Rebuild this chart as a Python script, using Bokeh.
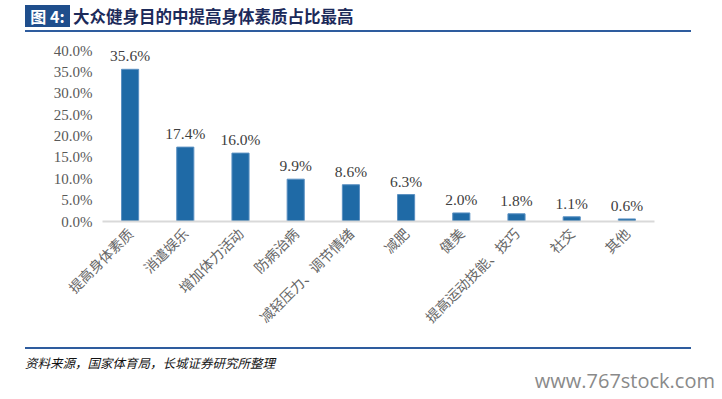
from bokeh.plotting import figure
from bokeh.models import (ColumnDataSource, LabelSet, Div,
                          PrintfTickFormatter, FixedTicker, Range1d)
from bokeh.layouts import column
from bokeh.embed import file_html
from bokeh.resources import INLINE
import math

# ---- data ----
categories = ["提高身体素质", "消遣娱乐", "增加体力活动", "防病治病", "减轻压力、调节情绪",
              "减肥", "健美", "提高运动技能、技巧", "社交", "其他"]
values = [35.6, 17.4, 16.0, 9.9, 8.6, 6.3, 2.0, 1.8, 1.1, 0.6]
value_labels = ["35.6%", "17.4%", "16.0%", "9.9%", "8.6%", "6.3%", "2.0%", "1.8%", "1.1%", "0.6%"]
y_ticks = [0, 5, 10, 15, 20, 25, 30, 35, 40]

title_tag = "图 4:"
title_text = "大众健身目的中提高身体素质占比最高"
source_text = "资料来源，国家体育局，长城证券研究所整理"
watermark = "www.767stock.com"

W = 722
HEADER_H, FIG_H, FOOTER_H = 36, 304, 57

# ---- header ----
header_html = f"""
<div style="position:relative;width:{W}px;height:{HEADER_H}px;overflow:hidden;">
  <div style="position:absolute;left:25px;top:5px;width:45px;height:22px;background:#1f4e8c;
              color:#ffffff;font-family:'Noto Sans CJK SC';font-weight:bold;font-size:16px;
              line-height:22px;text-align:center;white-space:nowrap;">{title_tag}</div>
  <div style="position:absolute;left:73px;top:5px;height:22px;line-height:22px;white-space:nowrap;
              font-family:'Noto Sans CJK SC';font-weight:bold;font-size:16.5px;color:#1c2a5a;">{title_text}</div>
  <div style="position:absolute;left:25px;top:30px;width:666px;height:2px;background:#2e5c9e;"></div>
</div>
"""
header = Div(text=header_html, width=W, height=HEADER_H, margin=0)

# ---- chart ----
src = ColumnDataSource(dict(cat=categories, val=values, lab=value_labels))

p = figure(x_range=categories, y_range=Range1d(0, 40), width=W, height=FIG_H,
           output_backend="svg", toolbar_location=None,
           min_border_left=102, min_border_right=68, min_border_top=14, min_border_bottom=119)
p.margin = 0
p.outline_line_color = None
p.background_fill_color = "white"
p.border_fill_color = "white"
p.xgrid.grid_line_color = None
p.ygrid.grid_line_color = None

p.vbar(x="cat", top="val", width=0.31, source=src,
       fill_color="#1f6aa6", line_color="#5a90c2", line_width=1)

labels = LabelSet(x="cat", y="val", text="lab", source=src, text_align="center",
                  text_baseline="bottom", y_offset=5,
                  text_font="Liberation Serif", text_font_size="15.5px", text_color="#404040")
p.add_layout(labels)

p.yaxis.ticker = FixedTicker(ticks=y_ticks)
p.yaxis.formatter = PrintfTickFormatter(format="%.1f%%")
p.yaxis.axis_line_color = None
p.yaxis.major_tick_line_color = None
p.yaxis.minor_tick_line_color = None
p.yaxis.major_tick_out = 0
p.yaxis.major_tick_in = 0
p.yaxis.minor_tick_out = 0
p.yaxis.major_label_standoff = 10
p.yaxis.major_label_text_font = "Liberation Serif"
p.yaxis.major_label_text_font_size = "15px"
p.yaxis.major_label_text_color = "#595959"

p.xaxis.axis_line_color = "#d9d9d9"
p.xaxis.axis_line_width = 2
p.xaxis.major_tick_line_color = None
p.xaxis.minor_tick_line_color = None
p.xaxis.major_tick_out = 0
p.xaxis.major_tick_in = 0
p.xaxis.minor_tick_out = 0
p.xaxis.major_label_orientation = math.pi / 4
p.xaxis.major_label_standoff = 9
p.xaxis.major_label_text_font = "Noto Sans CJK SC"
p.xaxis.major_label_text_font_size = "14px"
p.xaxis.major_label_text_color = "#666666"

# ---- footer ----
footer_html = f"""
<div style="position:relative;width:{W}px;height:{FOOTER_H}px;overflow:hidden;">
  <div style="position:absolute;left:25px;top:7px;width:666px;height:2px;background:#2e5c9e;"></div>
  <div style="position:absolute;left:25px;top:14px;line-height:18px;white-space:nowrap;
              font-family:'Noto Sans CJK SC';font-style:italic;font-size:12.5px;color:#111111;">{source_text}</div>
  <div style="position:absolute;right:7px;top:28px;line-height:26px;white-space:nowrap;
              font-family:'Open Sans';font-size:20px;color:#8a8a8a;">{watermark}</div>
</div>
"""
footer = Div(text=footer_html, width=W, height=FOOTER_H, margin=0)

layout = column(header, p, footer, spacing=0)
open("out.html", "w").write(file_html(layout, INLINE))
